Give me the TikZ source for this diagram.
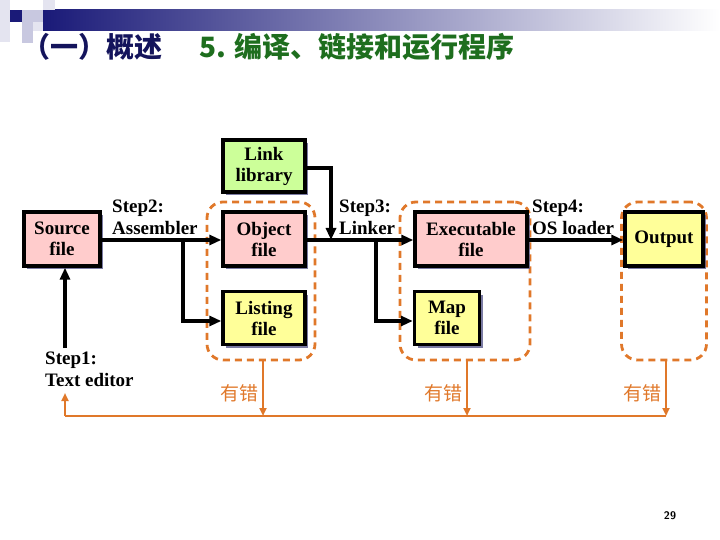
\documentclass[tikz,border=0pt]{standalone}
\usepackage{fontspec}
\setmainfont{Liberation Serif}
\newfontfamily\cjk{Noto Sans CJK SC}
\usetikzlibrary{arrows.meta,shadows}
\definecolor{navyc}{HTML}{1A1A78}
\definecolor{titleb}{HTML}{14145C}
\definecolor{titleg}{HTML}{1E6E1E}
\definecolor{pinkc}{HTML}{FFCCCC}
\definecolor{greenc}{HTML}{CCFF99}
\definecolor{yellowc}{HTML}{FFFF99}
\definecolor{shadowc}{HTML}{5A5A8C}
\definecolor{orangec}{HTML}{E0782A}
\definecolor{lavc}{HTML}{C8C8E0}
\definecolor{lavl}{HTML}{E4E4F0}
\begin{document}
\begin{tikzpicture}[x=1pt,y=-1pt,
  box/.style={draw=black, line width=3.4pt, inner sep=0pt, align=center,
    font=\bfseries\fontsize{19}{21}\selectfont,
    drop shadow={shadow xshift=3pt, shadow yshift=-3pt, fill=shadowc, opacity=0.8}},
  steplabel/.style={align=left, inner sep=0pt, anchor=west, font=\bfseries\fontsize{19}{22}\selectfont},
  flow/.style={line width=3.6pt, -{Triangle[length=12pt,width=10pt]}},
  grp/.style={draw=orangec, line width=2.8pt, dash pattern=on 7pt off 5pt, rounded corners=16pt, inner sep=0pt},
  errline/.style={draw=orangec, line width=2.2pt},
  errarrow/.style={draw=orangec, line width=2.2pt, -{Triangle[length=8pt,width=7pt]}},
  errtext/.style={text=orangec, font=\cjk\fontsize{19}{22}\selectfont, inner sep=0pt}]
\useasboundingbox (0,0) rectangle (720,540);
% header decoration
\shade[left color=navyc, right color=white] (43,10) rectangle (720,31);
\fill[lavl] (0,0) rectangle (10,10);
\fill[lavl] (0,10) rectangle (10,42);
\fill[navyc] (10,10) rectangle (22,22);
\fill[lavc] (22,10) rectangle (43,22);
\fill[lavl] (43,0) rectangle (55,10);
\fill[lavc] (22,22) rectangle (33,33);
\fill[lavl] (33,22) rectangle (43,31);
\fill[lavc] (22,33) rectangle (33,43);
% titles
\node[anchor=west, inner sep=0pt, text=titleb, font=\cjk\bfseries\fontsize{28}{32}\selectfont] (t1) at (22,47) {（一）概述};
\node[anchor=west, inner sep=0pt, text=titleg, font=\cjk\bfseries\fontsize{28}{32}\selectfont] (t2) at (199,47) {5. 编译、链接和运行程序};
% groups
\node[grp, minimum width=108pt, minimum height=158pt] (g1) at (261,281) {};
\node[grp, minimum width=130pt, minimum height=158pt] (g2) at (465,281) {};
\node[grp, minimum width=85pt, minimum height=158pt] (g3) at (664,281) {};
% boxes
\node[box, fill=pinkc, minimum width=76pt, minimum height=54pt] (src) at (62,239) {Source\\file};
\node[box, fill=greenc, minimum width=82pt, minimum height=52pt] (lib) at (264,166) {Link\\library};
\node[box, fill=pinkc, minimum width=82pt, minimum height=54pt] (obj) at (264,239) {Object\\file};
\node[box, fill=pinkc, minimum width=112pt, minimum height=54pt] (exe) at (471,239) {Executable\\file};
\node[box, fill=yellowc, minimum width=78pt, minimum height=54pt] (out) at (664,239) {Output};
\node[box, fill=yellowc, minimum width=82pt, minimum height=53pt] (lst) at (264,318) {Listing\\file};
\node[box, fill=yellowc, minimum width=65pt, minimum height=53pt] (map) at (447,318) {Map\\file};
% step labels
\node[steplabel] (s2) at (112,217) {Step2:\\Assembler};
\node[steplabel] (s3) at (339,217) {Step3:\\Linker};
\node[steplabel] (s4) at (532,217) {Step4:\\OS loader};
\node[steplabel] (s1) at (45,369) {Step1:\\Text editor};
% junctions
\coordinate (b1) at (183,240);
\coordinate (b1d) at (183,321);
\coordinate (b2) at (376,240);
\coordinate (b2d) at (376,321);
\coordinate (j1) at (331,240);
\coordinate (e1) at (65,348);
% flow
\draw[flow] (src.east |- b1) -- (obj.west |- b1);
\draw[flow] (obj.east |- b1) -- (exe.west |- b1);
\draw[flow] (exe.east |- b1) -- (out.west |- b1);
\draw[flow] (b1) -- (b1d) -- (lst.west |- b1d);
\draw[flow] (lib.east |- 0,168) -| (j1);
\draw[flow] (b2) -- (b2d) -- (map.west |- b2d);
\draw[flow] (e1) -- (e1 |- src.south);
% error bus
\coordinate (busL) at (65,416);
\coordinate (busR) at (666,416);
\coordinate (up) at (65,393);
\draw[errline] (busR) -- (busL);
\draw[errarrow] (busL) -- (up);
\draw[errarrow] (g1.south -| 263,0) -- (263,416);
\draw[errarrow] (g2.south -| 467,0) -- (467,416);
\draw[errarrow] (g3.south -| 666,0) -- (busR);
\node[errtext, anchor=east] (r1) at (259,393) {有错};
\node[errtext, anchor=east] (r2) at (463,393) {有错};
\node[errtext, anchor=east] (r3) at (662,393) {有错};
% page number
\node[font=\sffamily\bfseries\fontsize{11}{13}\selectfont, inner sep=0pt] (pg) at (670,516) {29};
\end{tikzpicture}
\end{document}
